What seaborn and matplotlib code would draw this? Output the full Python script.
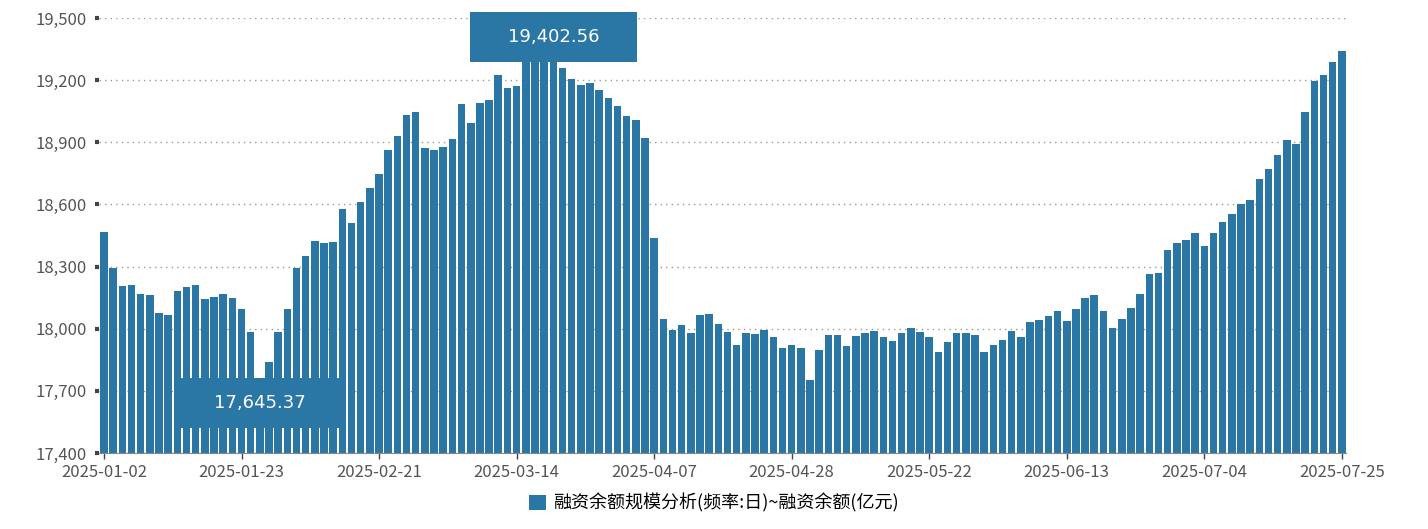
import numpy as np
import pandas as pd
import matplotlib
matplotlib.use("Agg")
import matplotlib.pyplot as plt
from matplotlib.patches import Rectangle, Patch
import seaborn as sns

holidays = ["2025-01-01", "2025-01-28", "2025-01-29", "2025-01-30", "2025-01-31",
            "2025-02-03", "2025-02-04", "2025-04-04", "2025-05-01", "2025-05-02",
            "2025-05-05", "2025-06-02"]
dates = [d.strftime("%Y-%m-%d") for d in pd.bdate_range("2025-01-02", "2025-07-25")
         if d.strftime("%Y-%m-%d") not in holidays]

values = [18468, 18291, 18207, 18211, 18167, 18163, 18074, 18066, 18182, 18200,
          18211, 18144, 18153, 18166, 18147, 18095, 17982, 17645.37, 17838, 17982,
          18095, 18291, 18351, 18425, 18412, 18419, 18579, 18512, 18613, 18681,
          18745, 18863, 18930, 19030, 19048, 18871, 18863, 18879, 18914, 19085,
          18991, 19088, 19104, 19223, 19160, 19173, 19320, 19360, 19390, 19402.56,
          19260, 19204, 19177, 19185, 19152, 19112, 19075, 19027, 19008, 18919,
          18436, 18047, 17994, 18018, 17978, 18066, 18071, 18021, 17984, 17921,
          17979, 17973, 17994, 17962, 17908, 17921, 17907, 17752, 17896, 17969,
          17969, 17916, 17967, 17979, 17991, 17962, 17942, 17979, 18002, 17984,
          17962, 17890, 17936, 17979, 17981, 17971, 17887, 17921, 17944, 17991,
          17958, 18034, 18044, 18061, 18085, 18039, 18095, 18150, 18163, 18087,
          18005, 18047, 18098, 18167, 18262, 18270, 18378, 18415, 18427, 18460,
          18398, 18460, 18517, 18555, 18604, 18623, 18721, 18771, 18840, 18909,
          18892, 19045, 19197, 19223, 19286, 19339]
n = min(len(dates), len(values))
dates, values = dates[:n], values[:n]

yticks = [17400, 17700, 18000, 18300, 18600, 18900, 19200, 19500]
legend_label = "融资余额规模分析(频率:日)~融资余额(亿元)"
color = "#2a77a6"

plt.rcParams["font.family"] = ["Noto Sans CJK SC", "DejaVu Sans"]
fig = plt.figure(figsize=(14.28, 5.29), dpi=100)
ax = fig.add_axes([99.4 / 1428, 1 - 453 / 529, 1247 / 1428, 435 / 529])
df = pd.DataFrame({"date": dates, "value": values})
sns.barplot(data=df, x="date", y="value", color=color, width=0.82, ax=ax,
            saturation=1, zorder=2)
for p in ax.patches:
    p.set_edgecolor("none")

ax.set_xlim(-0.5, n - 0.5)
ax.set_ylim(17400, 19500)
ax.set_yticks(yticks)
ax.set_yticklabels([f"{v:,}" for v in yticks], fontsize=12, color="#555555")
ax.tick_params(axis="y", length=3, width=3, color="#444444", pad=6)
idx = list(range(0, n, 15))
ax.set_xticks(idx)
ax.set_xticklabels([dates[i] for i in idx], fontsize=12, color="#555555")
ax.tick_params(axis="x", length=4, width=1, color="#444444", pad=4)
ax.set_xlabel("")
ax.set_ylabel("")
ax.grid(axis="y", linestyle=(0, (1, 3)), color="#999999", linewidth=1, zorder=0)
for s in ["top", "right", "left"]:
    ax.spines[s].set_visible(False)
ax.spines["bottom"].set_color("#888888")

vals = np.array(values)
imin, imax = int(vals.argmin()), int(vals.argmax())
for i, (y0, y1) in [(imin, (17520, 17762)), (imax, (19288, 19529))]:
    ax.add_patch(Rectangle((i - 9.1, y0), 18.2, y1 - y0, facecolor=color,
                           edgecolor="none", zorder=5, clip_on=False))
    ax.text(i, (y0 + y1) / 2, f"{vals[i]:,.2f}", color="white", fontsize=13,
            ha="center", va="center", zorder=6, family="DejaVu Sans")

fig.legend(handles=[Patch(facecolor=color, label=legend_label)], loc="lower center",
           bbox_to_anchor=(0.5, 0.0), frameon=False, fontsize=13,
           handlelength=0.9, handleheight=0.9, handletextpad=0.4)
fig.savefig("out.png", dpi=100)
